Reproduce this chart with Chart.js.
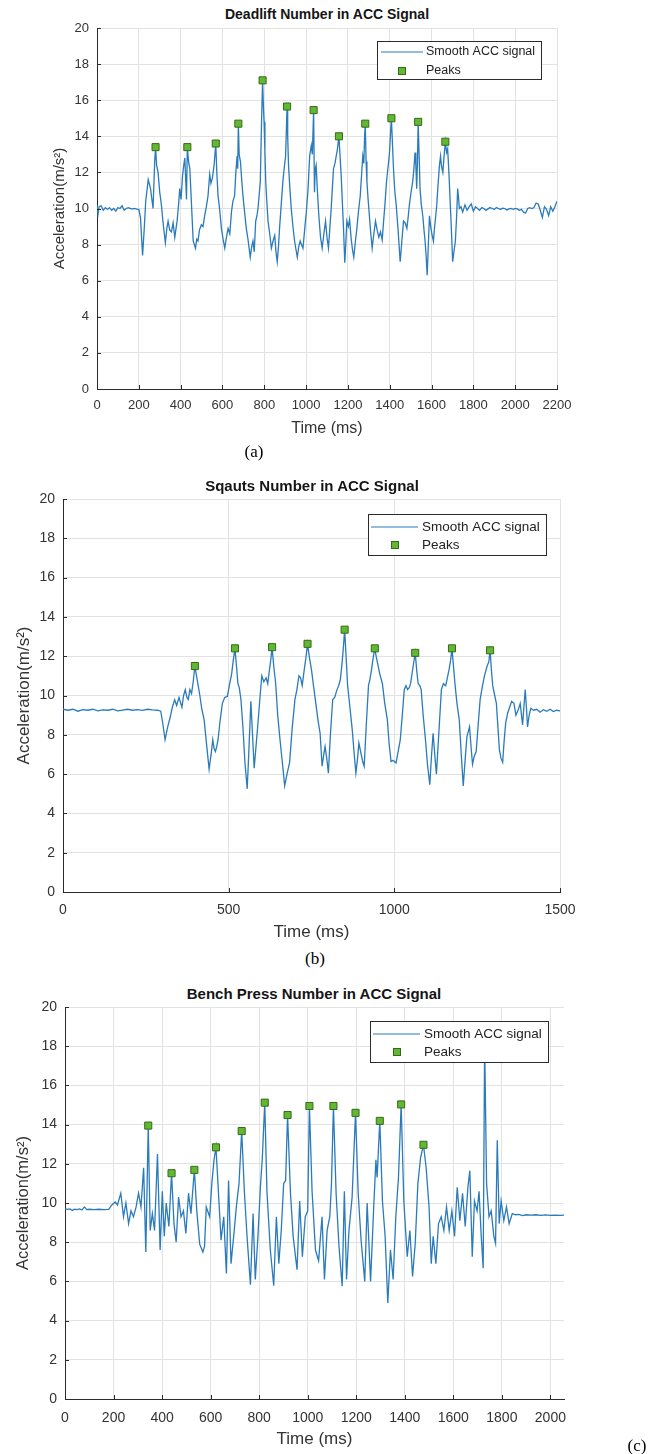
<!DOCTYPE html>
<html>
<head>
<meta charset="utf-8">
<script src="https://cdn.jsdelivr.net/npm/chart.js@4.4.1/dist/chart.umd.min.js"></script>
<style>
  body { margin: 0; background: #fff; width: 662px; height: 1454px; position: relative; overflow: hidden; font-family: "Liberation Sans", Arial, sans-serif; }
  canvas { position: absolute; left: 0; }
  .plot-title { position: absolute; font-weight: bold; color: #151515; transform: translate(-50%, -50%); white-space: nowrap; }
  .sub-label { position: absolute; font-family: "Liberation Serif", "Times New Roman", serif; font-size: 17px; color: #000; transform: translate(-50%, -50%); }
</style>
</head>
<body>
<div class="plot-title" style="left:327px;top:14px;font-size:14px">Deadlift Number in ACC Signal</div>
<canvas id="deadliftChart" width="662" height="445" style="top:0px"></canvas>
<div class="sub-label" style="left:254px;top:452px">(a)</div>

<div class="plot-title" style="left:312px;top:485px;font-size:15px">Sqauts Number in ACC Signal</div>
<canvas id="squatChart" width="662" height="475" style="top:470px"></canvas>
<div class="sub-label" style="left:315px;top:959px">(b)</div>

<div class="plot-title" style="left:314px;top:993px;font-size:15px">Bench Press Number in ACC Signal</div>
<canvas id="benchChart" width="662" height="470" style="top:980px"></canvas>
<div class="sub-label" style="left:637px;top:1446px">(c)</div>

<script>
// Deadlift signal (ms, m/s^2)
const deadliftTime = [0,5,10,20,30,40,50,60,70,80,90,100,110,120,130,140,150,160,170,180,190,200,208,218,226,233,245,256,268,276,280,285,292,300,308,316,327,334,340,348,356,364,372,383,390,396,402,409,415,420,428,432,438,444,452,460,471,477,483,490,499,507,515,523,531,539,545,552,560,568,573,579,587,595,603,611,619,627,635,643,650,658,664,670,673,676,680,686,692,698,706,714,722,733,740,746,752,759,765,770,776,781,787,792,796,799,803,807,812,818,826,834,842,850,856,862,868,873,881,889,895,902,909,912,916,922,929,937,945,952,958,965,972,978,985,993,1001,1009,1017,1025,1030,1036,1040,1044,1048,1054,1061,1069,1077,1085,1093,1100,1107,1113,1120,1126,1131,1138,1144,1150,1157,1162,1168,1174,1179,1185,1190,1195,1202,1208,1215,1222,1228,1236,1243,1251,1259,1265,1271,1276,1280,1283,1287,1291,1296,1300,1308,1316,1324,1332,1340,1348,1356,1364,1370,1377,1384,1391,1395,1399,1404,1408,1413,1418,1424,1431,1440,1450,1458,1466,1474,1482,1488,1494,1502,1510,1515,1521,1525,1529,1533,1536,1541,1545,1551,1558,1564,1569,1574,1579,1584,1590,1596,1603,1609,1614,1620,1625,1631,1638,1643,1648,1654,1660,1666,1672,1677,1683,1689,1695,1701,1707,1714,1720,1725,1729,1733,1741,1749,1760,1770,1780,1790,1800,1810,1820,1830,1840,1850,1860,1870,1880,1890,1900,1910,1920,1930,1940,1950,1960,1970,1980,1990,2000,2010,2020,2030,2040,2050,2060,2070,2080,2090,2100,2110,2120,2130,2140,2150,2160,2170,2180,2190,2200];
const deadliftAcc = [10.2,9.7,10.1,10.15,9.9,10.05,9.95,10.05,9.9,10.0,9.85,10.05,10.0,10.15,9.9,10.0,10.05,10.0,9.98,10.0,9.96,9.95,9.5,7.4,8.9,10.4,11.6,11.1,10.0,12.6,13.4,12.4,12.0,10.9,10.2,9.2,8.1,8.9,9.3,8.8,8.7,9.2,8.4,9.3,10.2,11.1,10.5,11.8,12.4,12.8,10.5,13.4,12.6,12.2,10.2,8.2,7.8,8.3,8.2,8.8,9.1,9.0,9.6,10.1,10.7,11.9,11.4,11.7,12.4,13.6,12.0,10.7,9.9,8.9,8.3,7.8,8.4,8.9,8.6,9.8,10.4,10.7,12.0,12.9,12.2,14.7,13.0,12.6,11.6,10.7,9.8,8.9,8.3,7.3,7.9,8.2,7.6,9.3,9.6,10.0,10.8,11.5,14.8,17.1,15.6,14.8,13.2,11.5,10.4,9.3,8.6,7.8,8.2,8.5,7.6,7.05,7.9,8.9,10.2,11.5,12.2,12.9,15.65,14.0,12.4,11.2,10.0,9.0,8.2,7.7,7.3,7.9,8.2,8.0,7.8,8.8,9.8,11.0,12.9,13.5,13.0,15.45,10.9,12.2,12.4,11.0,9.6,8.4,7.8,8.6,9.3,8.4,7.8,8.8,10.0,11.2,12.2,12.5,12.9,13.3,14.0,13.0,11.8,10.2,8.9,7.0,8.1,9.3,9.0,9.4,8.4,7.7,7.3,8.2,8.9,9.9,10.7,11.8,12.9,12.5,14.0,14.7,12.6,11.5,10.6,10.0,8.8,7.8,8.6,9.3,8.8,8.4,8.7,8.25,9.2,10.2,11.4,12.2,12.6,13.1,14.2,15.0,13.6,12.2,11.0,10.2,8.8,7.05,8.2,9.3,9.2,8.9,9.5,10.2,10.9,11.5,12.1,13.1,12.4,11.1,12.8,14.8,12.8,11.1,10.2,9.6,8.8,8.2,7.4,6.3,7.8,9.6,9.0,8.5,8.2,8.9,9.6,10.2,11.3,12.4,12.9,12.3,12.0,12.9,13.7,13.1,13.3,12.0,10.4,8.8,7.05,7.6,8.2,9.6,11.1,10.6,10.0,10.1,9.8,10.2,9.9,10.1,10.25,9.85,10.1,10.0,9.9,10.05,10.0,9.9,9.98,10.05,10.0,9.95,10.05,10.0,9.95,10.02,10.0,9.92,9.98,10.0,9.95,10.0,9.98,9.9,9.95,9.8,9.75,10.0,10.05,10.0,10.05,10.3,10.25,9.9,9.5,10.1,9.95,9.6,10.1,9.85,10.1,10.4];
const deadliftPeakTime = [280,432,568,676,792,909,1036,1157,1283,1408,1536,1666];
const deadliftPeakAcc = [13.4,13.4,13.6,14.7,17.1,15.65,15.45,14.0,14.7,15.0,14.8,13.7];

// Squat signal
const squatTime = [0,15,30,45,60,75,90,105,120,135,150,165,180,195,210,225,240,255,270,285,295,301,308,316,324,330,337,343,350,359,364,369,374,378,383,388,393,398,403,407,413,419,426,434,441,447,452,456,460,464,468,474,481,488,496,502,509,514,519,524,528,532,537,543,549,556,561,567,572,577,582,588,594,600,606,613,618,623,627,631,636,642,648,655,662,669,676,684,691,700,706,712,717,722,728,733,738,744,750,756,763,770,776,782,787,791,796,801,807,814,820,827,832,837,842,846,850,855,859,866,873,879,884,889,893,900,905,909,915,922,926,931,936,941,945,950,956,964,971,979,984,990,996,1005,1012,1018,1024,1030,1035,1040,1045,1049,1056,1063,1068,1072,1077,1081,1087,1094,1100,1107,1112,1117,1122,1127,1134,1142,1148,1155,1160,1165,1170,1174,1179,1183,1189,1196,1202,1208,1214,1219,1227,1232,1236,1241,1247,1253,1259,1265,1272,1280,1285,1289,1293,1297,1303,1308,1313,1317,1322,1327,1331,1336,1342,1348,1354,1361,1367,1374,1380,1387,1391,1395,1399,1402,1407,1412,1420,1430,1440,1450,1460,1470,1480,1490,1500];
const squatAcc = [9.3,9.25,9.3,9.2,9.28,9.25,9.3,9.22,9.27,9.25,9.3,9.22,9.26,9.3,9.25,9.28,9.24,9.3,9.27,9.25,9.2,8.6,7.75,8.4,8.93,9.4,9.78,9.5,9.9,9.4,10.0,10.3,9.9,9.8,10.3,10.1,10.7,11.5,11.0,10.6,10.0,9.3,8.76,7.4,6.25,7.0,7.75,7.3,7.15,7.4,7.75,8.7,9.6,9.9,9.95,10.5,11.1,11.8,12.4,11.4,10.6,10.4,9.8,8.4,6.6,5.25,7.2,9.7,8.0,6.3,7.3,8.5,9.8,11.0,10.7,10.9,10.6,11.3,11.8,12.46,11.5,10.6,9.0,7.75,6.6,5.4,6.0,6.6,8.2,9.8,10.3,11.0,10.9,10.5,11.3,11.9,12.63,11.9,11.3,10.5,9.6,8.7,8.08,6.4,7.0,7.4,6.8,6.05,8.0,9.8,9.9,10.3,10.5,10.8,11.6,12.4,13.35,11.8,10.5,9.4,8.25,7.0,6.05,6.8,7.58,7.0,6.6,6.4,8.4,10.5,10.8,11.3,11.9,12.4,12.0,11.6,11.1,10.6,9.6,8.76,7.6,6.64,6.7,6.56,7.2,7.75,9.0,10.3,10.5,10.3,10.4,10.6,11.4,12.17,11.2,10.6,10.5,10.3,9.0,7.75,6.5,5.46,6.9,8.08,7.0,6.0,8.0,10.3,10.6,10.5,10.9,11.3,11.8,12.4,11.4,10.6,9.6,8.76,7.0,5.4,6.8,7.9,8.4,7.3,6.5,6.9,7.15,8.5,9.8,10.4,11.0,11.5,11.7,12.3,11.3,10.5,10.0,9.6,8.3,7.24,6.8,6.6,7.6,8.6,9.1,9.4,9.7,9.6,9.0,9.27,9.6,8.5,9.4,10.3,9.3,8.4,9.0,9.35,9.25,9.3,9.15,9.28,9.2,9.3,9.18,9.25,9.22];
const squatPeakTime = [398,519,631,738,850,941,1063,1174,1289];
const squatPeakAcc = [11.5,12.4,12.46,12.63,13.35,12.4,12.17,12.4,12.3];

// Bench press signal
const benchTime = [0,10,20,30,40,50,60,70,80,90,100,120,140,160,180,193,207,216,230,241,251,262,272,282,293,303,313,324,333,343,351,360,369,381,392,401,409,417,428,439,449,458,468,478,488,498,509,519,533,543,555,568,575,582,596,605,614,622,632,643,654,665,674,684,695,706,717,728,739,750,764,775,784,795,805,813,823,832,846,860,871,881,891,901,909,917,929,940,956,967,978,990,1000,1007,1018,1032,1045,1059,1069,1080,1091,1098,1106,1117,1129,1142,1151,1160,1170,1183,1197,1208,1220,1235,1245,1259,1272,1281,1286,1297,1308,1319,1330,1341,1352,1363,1374,1385,1396,1410,1421,1432,1443,1454,1465,1477,1488,1500,1509,1517,1528,1539,1550,1561,1572,1583,1594,1605,1616,1627,1638,1649,1660,1668,1678,1687,1698,1706,1715,1723,1729,1737,1747,1756,1767,1774,1781,1789,1797,1808,1819,1830,1843,1857,1870,1885,1900,1920,1940,1960,1980,2000,2020,2040,2056];
const benchAcc = [9.7,9.68,9.7,9.62,9.68,9.66,9.7,9.64,9.8,9.66,9.68,9.66,9.68,9.66,9.67,9.9,10.05,9.9,10.5,9.3,10.0,8.95,9.6,9.3,9.8,10.5,9.8,11.8,7.5,13.95,8.6,9.46,8.6,12.5,7.6,10.6,8.3,10.0,8.8,11.52,8.95,8.0,10.3,9.3,9.6,8.45,10.5,9.46,11.69,9.6,7.9,7.5,7.8,9.8,9.3,11.0,12.2,12.84,10.6,8.1,9.3,6.4,11.15,6.9,8.3,9.8,11.0,13.67,10.6,8.3,5.83,9.46,6.1,8.3,10.8,12.3,15.12,10.6,7.6,5.78,9.3,6.9,8.6,11.0,11.15,14.49,10.5,8.3,6.6,10.1,7.26,9.3,9.6,14.95,10.6,7.6,7.06,9.3,6.1,8.6,9.3,11.0,14.95,10.5,7.77,5.75,10.6,6.1,8.6,10.3,14.6,10.5,8.1,6.0,10.0,6.0,9.8,12.2,11.3,14.19,10.1,8.3,4.9,7.6,6.1,9.3,11.3,15.03,10.1,7.26,8.6,6.25,7.94,11.0,12.3,12.97,11.8,9.8,6.9,8.3,6.9,8.95,9.3,8.6,9.8,8.6,9.6,8.3,10.8,9.1,10.5,8.8,10.8,11.65,7.26,10.1,9.6,10.6,8.3,6.67,18.2,11.0,9.3,9.6,8.3,7.94,13.2,8.95,10.1,9.1,9.8,8.95,9.46,9.4,9.42,9.36,9.4,9.38,9.4,9.37,9.39,9.37,9.38,9.37,9.38];
const benchPeakTime = [343,439,533,622,728,823,917,1007,1106,1197,1297,1385,1477];
const benchPeakAcc = [13.95,11.52,11.69,12.84,13.67,15.12,14.49,14.95,14.95,14.6,14.19,15.03,12.97];

const yTicksMax = 20;
const yTickStep = 2;

const lineColor = "#2a7bbb";
const peakFill = "#62b832";
const peakEdge = "#356b18";
const gridColor = "#e2e2e2";
const axisColor = "#2b2b2b";
const textColor = "#333333";

function toPoints(xs, ys) {
  return xs.map((x, i) => ({ x: x, y: ys[i] }));
}

// legend box drawn inside the plot, over the data (like matlab)
const boxLegend = {
  id: "boxLegend",
  afterDraw(chart, args, opts) {
    const { ctx, chartArea } = chart;
    const x = Math.round(chartArea.right - opts.inset);
    const y = Math.round(chartArea.top + opts.top);
    const ds = chart.data.datasets;
    ctx.save();
    ctx.fillStyle = "#fff";
    ctx.fillRect(x, y, opts.w, opts.h);
    ctx.strokeStyle = axisColor;
    ctx.lineWidth = 1;
    ctx.strokeRect(x + 0.5, y + 0.5, opts.w, opts.h);

    ctx.font = opts.fontSize + "px 'Liberation Sans', Arial, sans-serif";
    ctx.fillStyle = "#222";
    ctx.textBaseline = "middle";
    // row 1: line sample
    ctx.strokeStyle = lineColor;
    ctx.lineWidth = 1.2;
    ctx.beginPath();
    ctx.moveTo(x + opts.lineFrom, y + opts.row1);
    ctx.lineTo(x + opts.lineTo, y + opts.row1);
    ctx.stroke();
    ctx.fillText(ds[0].label, x + opts.textX, y + opts.row1);
    // row 2: peak marker
    const mx = x + opts.markX, my = y + opts.row2;
    ctx.fillStyle = peakFill;
    ctx.strokeStyle = peakEdge;
    ctx.lineWidth = 1;
    ctx.fillRect(mx - 3.5, my - 3.5, 7, 7);
    ctx.strokeRect(mx - 3.5, my - 3.5, 7, 7);
    ctx.fillStyle = "#222";
    ctx.fillText(ds[1].label, x + opts.textX, y + opts.row2);
    ctx.restore();
  }
};

// small inward tick marks on both axes
const innerTicks = {
  id: "innerTicks",
  afterDatasetsDraw(chart) {
    const { ctx, chartArea, scales } = chart;
    ctx.save();
    ctx.strokeStyle = axisColor;
    ctx.lineWidth = 1;
    ctx.beginPath();
    scales.x.ticks.forEach(t => {
      const px = Math.round(scales.x.getPixelForValue(t.value)) + 0.5;
      ctx.moveTo(px, chartArea.bottom);
      ctx.lineTo(px, chartArea.bottom - 4);
    });
    scales.y.ticks.forEach(t => {
      const py = Math.round(scales.y.getPixelForValue(t.value)) + 0.5;
      ctx.moveTo(chartArea.left, py);
      ctx.lineTo(chartArea.left + 4, py);
    });
    ctx.stroke();
    ctx.restore();
  }
};

function buildChart(id, cfg) {
  return new Chart(document.getElementById(id), {
    type: "scatter",
    data: {
      datasets: [
        {
          label: "Smooth ACC signal",
          data: toPoints(cfg.time, cfg.acc),
          showLine: true,
          borderColor: lineColor,
          borderWidth: 1.3,
          pointRadius: 0,
          tension: 0,
          order: 2
        },
        {
          label: "Peaks",
          data: toPoints(cfg.peakTime, cfg.peakAcc),
          showLine: false,
          pointStyle: "rect",
          pointRadius: 5,
          backgroundColor: peakFill,
          borderColor: peakEdge,
          borderWidth: 1,
          order: 1
        }
      ]
    },
    options: {
      responsive: false,
      animation: false,
      events: [],
      layout: { padding: { top: cfg.padTop, right: cfg.padRight, left: 0, bottom: 0 } },
      plugins: {
        legend: { display: false },
        tooltip: { enabled: false },
        boxLegend: cfg.legend
      },
      scales: {
        x: {
          type: "linear",
          min: 0,
          max: cfg.xMax,
          afterFit: s => { s.height = cfg.xHeight; },
          grid: { color: gridColor, drawTicks: false },
          border: { display: true, color: axisColor, width: 1 },
          ticks: {
            stepSize: cfg.xStep,
            includeBounds: false,
            autoSkip: false,
            maxRotation: 0,
            padding: cfg.xTickPad,
            color: textColor,
            callback: v => String(v),
            font: { family: "'Liberation Sans', Arial, sans-serif", size: cfg.tickSize }
          },
          title: {
            display: true,
            text: "Time (ms)",
            color: textColor,
            padding: { top: 0, bottom: cfg.xTitlePad },
            font: { family: "'Liberation Sans', Arial, sans-serif", size: cfg.xTitleSize }
          }
        },
        y: {
          min: 0,
          max: yTicksMax,
          afterFit: s => { s.width = cfg.yWidth; },
          grid: { color: gridColor, drawTicks: false },
          border: { display: true, color: axisColor, width: 1 },
          ticks: {
            stepSize: yTickStep,
            padding: 8,
            color: textColor,
            callback: v => String(v),
            font: { family: "'Liberation Sans', Arial, sans-serif", size: cfg.tickSize }
          },
          title: {
            display: true,
            text: "Acceleration(m/s²)",
            color: textColor,
            padding: { top: cfg.yTitlePad, bottom: 0 },
            font: { family: "'Liberation Sans', Arial, sans-serif", size: cfg.yTitleSize }
          }
        }
      }
    },
    plugins: [innerTicks, boxLegend]
  });
}

buildChart("deadliftChart", {
  time: deadliftTime, acc: deadliftAcc, peakTime: deadliftPeakTime, peakAcc: deadliftPeakAcc,
  xMax: 2200, xStep: 200,
  padTop: 28, padRight: 105, yWidth: 97, xHeight: 56,
  tickSize: 13, xTickPad: 9, xTitleSize: 16, xTitlePad: 7, yTitleSize: 15, yTitlePad: 51,
  legend: { inset: 180, top: 13, w: 164, h: 38, lineFrom: 4, lineTo: 46, textX: 49, markX: 25, row1: 11, row2: 30, fontSize: 12.5 }
});

buildChart("squatChart", {
  time: squatTime, acc: squatAcc, peakTime: squatPeakTime, peakAcc: squatPeakAcc,
  xMax: 1500, xStep: 500,
  padTop: 29, padRight: 102, yWidth: 63, xHeight: 53,
  tickSize: 14, xTickPad: 10, xTitleSize: 17, xTitlePad: 2, yTitleSize: 17, yTitlePad: 14,
  legend: { inset: 192, top: 15, w: 178, h: 41, lineFrom: 3, lineTo: 50, textX: 54, markX: 27, row1: 13, row2: 31, fontSize: 13.5 }
});

buildChart("benchChart", {
  time: benchTime, acc: benchAcc, peakTime: benchPeakTime, peakAcc: benchPeakAcc,
  xMax: 2056, xStep: 200,
  padTop: 27, padRight: 98, yWidth: 65, xHeight: 51,
  tickSize: 14, xTickPad: 11, xTitleSize: 17, xTitlePad: 0, yTitleSize: 16.5, yTitlePad: 14,
  legend: { inset: 194, top: 14, w: 178, h: 41, lineFrom: 3, lineTo: 50, textX: 54, markX: 27, row1: 13, row2: 31, fontSize: 13.5 }
});
</script>
</body>
</html>
